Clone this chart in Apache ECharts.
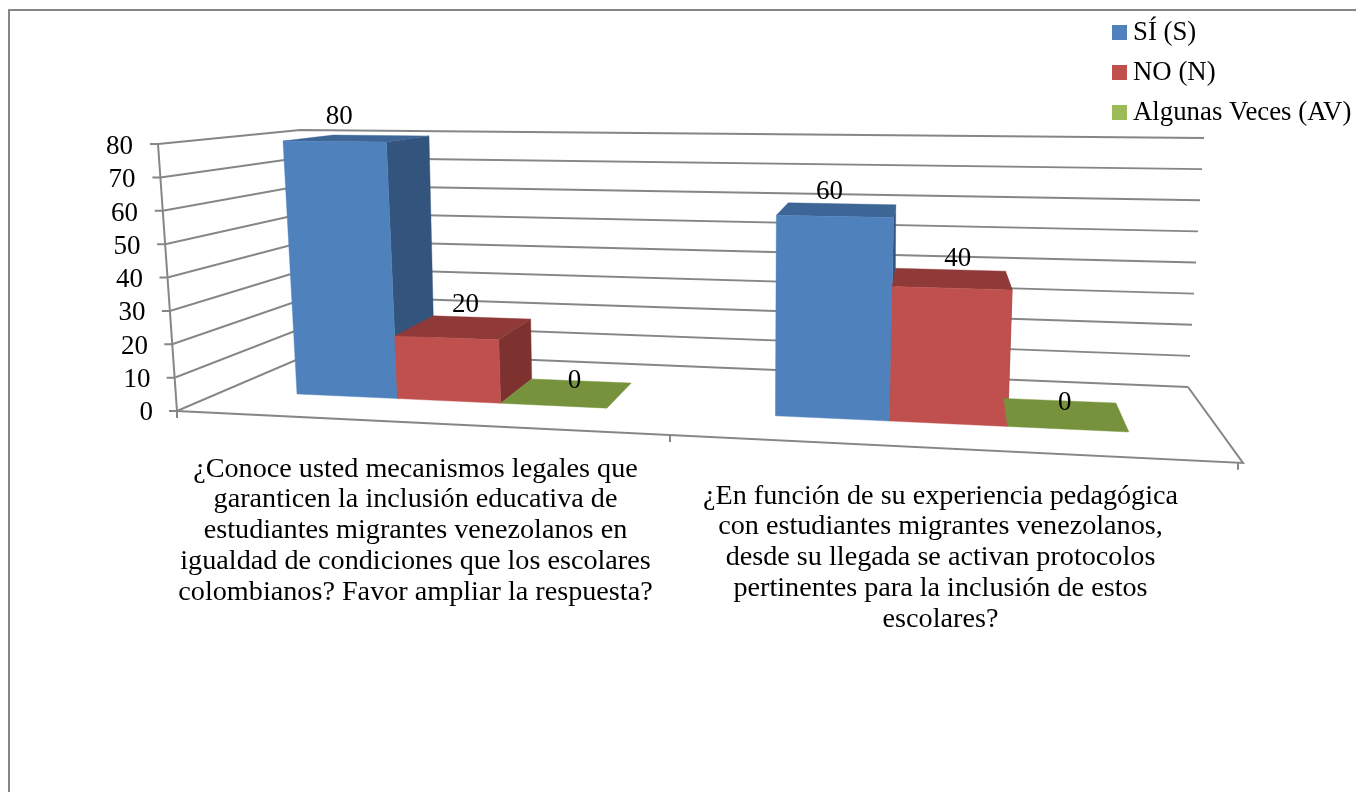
<!DOCTYPE html>
<html><head><meta charset="utf-8">
<style>html,body{margin:0;padding:0;background:#fff}#c{width:1356px;height:792px}</style>
<script src="https://cdn.jsdelivr.net/npm/echarts@6/dist/echarts.min.js"></script>
</head><body><div id="c"></div>
<script>
// ---- data ----
const categories = [
  "¿Conoce usted mecanismos legales que\ngaranticen la inclusión educativa de\nestudiantes migrantes venezolanos en\nigualdad de condiciones que los escolares\ncolombianos? Favor ampliar la respuesta?",
  "¿En función de su experiencia pedagógica\ncon estudiantes migrantes venezolanos,\ndesde su llegada se activan protocolos\npertinentes para la inclusión de estos\nescolares?"
];
const seriesNames = ["SÍ (S)", "NO (N)", "Algunas Veces (AV)"];
const siValues = [80, 60];
const noValues = [20, 40];
const avValues = [0, 0];
const yTicks = [0, 10, 20, 30, 40, 50, 60, 70, 80];

// ---- styling / layout ----
const FONT = '"Liberation Serif", serif';
const FS = 27, FS_CAT = 28.2, FS_LEG = 26.8;
const GRAY = '#868686';
const faces = [
  { legend: '#4f81bd', front: '#4f81bd', top: '#3d6696', side: '#33547c' },
  { legend: '#c0504d', front: '#c0504d', top: '#8f3a38', side: '#7d3230' },
  { legend: '#9bbb59', front: '#9bbb59', top: '#76923c', side: '#76923c' }
];
const labelNudge = [[[5, -25], [-5, -25]], [[19, -33], [6, -29]], [[21, -25], [-3, -26]]];
const labelPadTop = [0, 27];

// perspective planes
function homography(p0, p1, p2, p3) { // (0,0),(1,0),(1,1),(0,1)
  const dx1 = p1[0]-p2[0], dx2 = p3[0]-p2[0], sx = p0[0]-p1[0]+p2[0]-p3[0];
  const dy1 = p1[1]-p2[1], dy2 = p3[1]-p2[1], sy = p0[1]-p1[1]+p2[1]-p3[1];
  const den = dx1*dy2-dx2*dy1;
  const g = (sx*dy2-dx2*sy)/den, h = (dx1*sy-sx*dy1)/den;
  const a = p1[0]-p0[0]+g*p1[0], b = p3[0]-p0[0]+h*p3[0], c = p0[0];
  const d = p1[1]-p0[1]+g*p1[1], e = p3[1]-p0[1]+h*p3[1], f = p0[1];
  return (u, v) => { const w = g*u+h*v+1; return [(a*u+b*v+c)/w, (d*u+e*v+f)/w]; };
}
const barFront = homography([297,394],[1129,432],[1143,150],[283,141]);
const barBack  = homography([340,371],[1116,403],[1121,143],[333,135]);
const BAR_S = 0.1328, CYCLE_S = 0.6015;

const lerp = (a, b, t) => [a[0]+(b[0]-a[0])*t, a[1]+(b[1]-a[1])*t];
const WALL = {
  frontBottom: [177,411], frontTop: [158,144],
  backLeftBottom: [317,351], backLeftTop: [300,130],
  backRightBottom: [1188,387], backRightTop: [1204,138],
  floorFrontRight: [1243,463]
};
const floorTickFracs = [0, 0.4625, 0.9953];

function valueFrac(api, value) {
  const y0 = api.coord([0, 0])[1], y1 = api.coord([0, 80])[1];
  return (y0 - api.coord([0, value])[1]) / (y0 - y1);
}
const lineStyle = { stroke: GRAY, lineWidth: 2, fill: null };

function renderWall(params, api) {
  const t = valueFrac(api, api.value(1));
  const f = lerp(WALL.frontBottom, WALL.frontTop, t);
  const bl = lerp(WALL.backLeftBottom, WALL.backLeftTop, t);
  const br = lerp(WALL.backRightBottom, WALL.backRightTop, t);
  const kids = [
    { type:'polyline', shape:{ points:[[f[0]-8,f[1]], f, bl, br] }, style: lineStyle }
  ];
  if (params.dataIndex === 0) {
    kids.push({ type:'polyline', shape:{ points:[WALL.frontTop, WALL.frontBottom, WALL.floorFrontRight, WALL.backRightBottom] }, style: lineStyle });
    floorTickFracs.forEach(fr => {
      const p = lerp(WALL.frontBottom, WALL.floorFrontRight, fr);
      kids.push({ type:'line', shape:{ x1:p[0], y1:p[1], x2:p[0], y2:p[1]+7 }, style:{ stroke:GRAY, lineWidth:2 } });
    });
  }
  return { type:'group', children:kids };
}

function renderBar(params, api) {
  const k = params.seriesIndex - 1;
  const cat = api.value(0), val = api.value(1);
  const xc = api.coord([cat, 0])[0], xc0 = api.coord([0, 0])[0], band = api.coord([1, 0])[0]-xc0;
  const s0 = (xc-xc0)/band*CYCLE_S + k*BAR_S, s1 = s0 + BAR_S;
  const v = valueFrac(api, val);
  const c = faces[k];
  const poly = (pts, fill) => ({ type:'polygon', shape:{ points:pts }, style:{ fill, stroke:fill, lineWidth:0.4 } });
  const kids = [];
  if (v > 0) {
    kids.push(poly([barFront(s1,0), barBack(s1,0), barBack(s1,v), barFront(s1,v)], c.side));
    kids.push(poly([barFront(s0,v), barFront(s1,v), barBack(s1,v), barBack(s0,v)], c.top));
    kids.push(poly([barFront(s0,0), barFront(s1,0), barFront(s1,v), barFront(s0,v)], c.front));
  } else {
    kids.push(poly([barFront(s0,0), barFront(s1,0), barBack(s1,0), barBack(s0,0)], c.top));
  }
  const a = barFront((s0+s1)/2, v), n = labelNudge[k][cat];
  kids.push({ type:'text', z2:50, style:{ x:a[0]+n[0], y:a[1]+n[1], text:String(val), fill:'#000', font:FS+'px '+FONT, align:'center', verticalAlign:'middle' } });
  return { type:'group', children:kids };
}

const valueRows = arr => arr.map((v, i) => [i, v]);
const barSeries = (name, arr, k) => ({
  type:'custom', name, coordinateSystem:'cartesian2d', renderItem:renderBar, clip:false, silent:true,
  encode:{ x:0, y:1 }, itemStyle:{ color:faces[k].legend }, data:valueRows(arr), z:3+k
});

const yRich = {};
yTicks.forEach(v => { yRich['p'+v] = { padding:[0, v/4, 0, 0], fontFamily:FONT, fontSize:FS, color:'#000' }; });

const chart = echarts.init(document.getElementById('c'), null, { width:1356, height:792 });
chart.setOption({
  animation:false,
  backgroundColor:'#fff',
  textStyle:{ fontFamily:FONT },
  graphic:[
    { type:'polyline', silent:true, shape:{ points:[[9,792],[9,10],[1356,10]] }, style:{ stroke:GRAY, lineWidth:2, fill:null } }
  ],
  legend:{
    orient:'vertical', left:1112, top:19, icon:'rect', itemWidth:15, itemHeight:15, itemGap:13,
    data:seriesNames, selectedMode:false, padding:0,
    textStyle:{ fontFamily:FONT, fontSize:FS_LEG, color:'#000', padding:[0,0,0,1] }
  },
  grid:{ left:153, right:153, top:147, height:266 },
  xAxis:{
    type:'category',
    data:categories.map((c, i) => ({ value:c, textStyle:{ padding:[labelPadTop[i],0,0,0] } })),
    axisLine:{ show:false }, axisTick:{ show:false },
    axisLabel:{ interval:0, margin:41, fontFamily:FONT, fontSize:FS_CAT, lineHeight:30.7, color:'#000', align:'center' }
  },
  yAxis:{
    type:'value', min:0, max:80, interval:10,
    axisLine:{ show:false }, axisTick:{ show:false }, splitLine:{ show:false },
    axisLabel:{ margin:0, fontFamily:FONT, fontSize:FS, color:'#000', formatter:v => '{p'+v+'|'+v+'}', rich:yRich }
  },
  series:[
    { type:'custom', name:'walls', coordinateSystem:'cartesian2d', renderItem:renderWall, clip:false, silent:true,
      encode:{ x:0, y:1 }, data:yTicks.map(v => [0, v]), z:1 },
    barSeries(seriesNames[0], siValues, 0),
    barSeries(seriesNames[1], noValues, 1),
    barSeries(seriesNames[2], avValues, 2)
  ]
});
</script></body></html>
